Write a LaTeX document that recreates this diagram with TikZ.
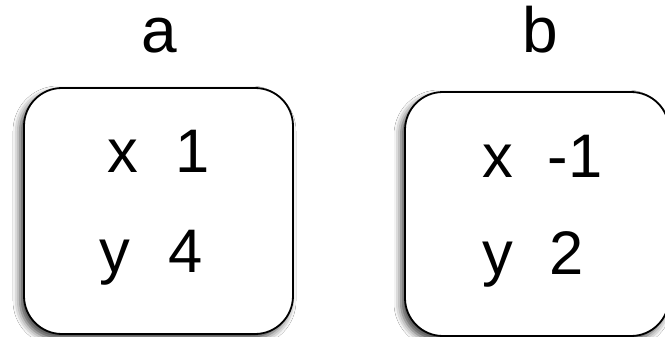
\documentclass[tikz,border=0pt]{standalone}
\usepackage{fontspec}
\setmainfont{Liberation Sans}
\usetikzlibrary{shadows.blur}
\begin{document}
\begin{tikzpicture}[x=1pt,y=-1pt,
  lbl/.style={inner sep=0pt,anchor=base,font=\fontsize{64}{70}\selectfont},
  txt/.style={inner sep=0pt,anchor=base,font=\fontsize{61.5}{68}\selectfont},
  cell/.style={draw=black,line width=1.8pt,fill=white,rounded corners=38pt,
    blur shadow={shadow xshift=-4pt,shadow yshift=-5pt,shadow blur radius=7pt,shadow opacity=75}}]
\useasboundingbox (0,0) rectangle (665,337);
\fill[white] (0,0) rectangle (665,337);
\node[cell,minimum width=269pt,minimum height=246pt] (boxa) at (158.5,211) {};
\node[cell,minimum width=264pt,minimum height=244pt] (boxb) at (537,214) {};
\node[lbl] (la) at (159,53) {a};
\node[lbl] (lb) at (540,53) {b};
\node[txt] (ax) at (122.5,172) {x};
\node[txt] (a1) at (192.3,172) {1};
\node[txt] (ay) at (115,272) {y};
\node[txt] (a4) at (186,272) {4};
\node[txt] (bx) at (497.5,178) {x};
\node[txt] (b1) at (575,178) {-1};
\node[txt] (by) at (498,274) {y};
\node[txt] (b2) at (566.5,274) {2};
\end{tikzpicture}
\end{document}
